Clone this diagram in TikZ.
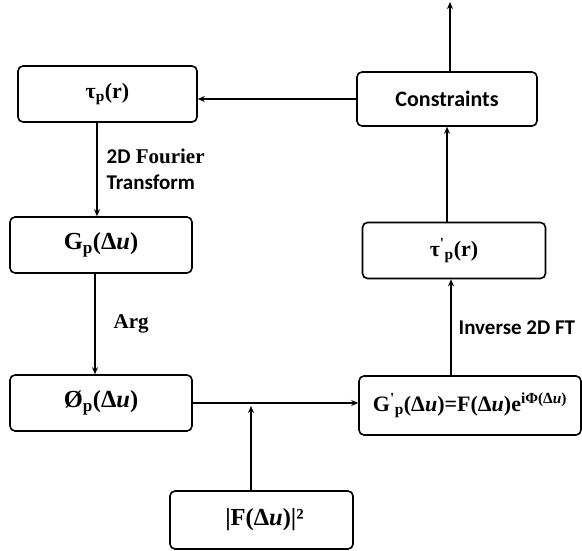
\documentclass[tikz,border=0pt]{standalone}
\usepackage{fontspec}
\setmainfont{Liberation Serif}
\newfontfamily\labelfont{Carlito}
\usetikzlibrary{arrows.meta,calc}
\begin{document}
\begin{tikzpicture}[x=1pt, y=-1pt, line cap=round]

    % let's define some key values
    \def\xleft{101}
    \def\xright{454}
    \def\boxw{182}
    \def\boxh{56}

    % Styles
    \tikzstyle{block}=[draw, line width=1.6pt, rounded corners=5pt,
        minimum width=\boxw pt, minimum height=\boxh pt, inner sep=2pt,
        font=\fontsize{22}{25}\selectfont\bfseries]
    \tikzstyle{wide}=[font=\fontsize{24.5}{27}\selectfont\bfseries]
    \tikzstyle{flow}=[line width=1.3pt, -{Stealth[length=7pt, width=6pt]}]
    \tikzstyle{note}=[inner sep=0pt, font=\fontsize{21}{24}\selectfont\bfseries]

    \useasboundingbox (0,0) rectangle (582,551);

    % left column
    \node[block, minimum width=179pt] (tau) at (107.5,94) {τ\textsubscript{p}(r)};
    \node[block, wide] (gp) at (\xleft,245) {G\textsubscript{p}(Δ\textit{u})};
    \node[block, wide] (phi) at (\xleft,403) {Ø\textsubscript{p}(Δ\textit{u})};

    % right column
    \node[block, minimum width=180pt, minimum height=54pt] (cons) at (447,99)
        {\labelfont Constraints};
    \node[block, minimum width=183pt] (cp) at (\xright,250.5)
        {τ\textsuperscript{\textquotesingle}\textsubscript{p}(r)};
    \node[block, minimum width=222pt, minimum height=59pt] (gpp) at (470,405.5)
        {G\textsuperscript{\textquotesingle}\textsubscript{p}(Δ\textit{u})=F(Δ\textit{u})e\textsuperscript{iΦ(Δ\textit{u})}};

    % modulus input
    \node[block, wide, minimum width=183pt, minimum height=58pt] (mod) at (261.5,520)
        {\hspace{6pt}|F(Δ\textit{u})|²};

    % free ends
    \coordinate (xa) at (97,0);
    \coordinate (xb) at (95,0);
    \coordinate (xc) at (451,0);
    \coordinate (out) at (450,2);
    \coordinate (xm) at (251,0);

    % output
    \draw[flow] (cons.north -| out) -- (out);
    % constraints back to start
    \draw[flow] (cons.west) -- (cons.west -| tau.east);
    % forward transform
    \draw[flow] (tau.south -| xa) -- (gp.north -| xa)
        node [note, midway, right=9pt, align=left]
        {{\labelfont 2D} Fourier\\[2pt]{\labelfont Transform}};
    % phase
    \draw[flow] (gp.south -| xb) -- (phi.north -| xb)
        node [note, midway, right=18pt] {Arg};
    % combine
    \draw[flow] (phi.east) -- (phi.east -| gpp.west);
    \draw[flow] (mod.north -| xm) -- ($(phi.east -| xm)+(0,3)$);
    % inverse transform
    \draw[flow] (gpp.north -| xc) -- (cp.south -| xc)
        node [note, midway, right=7pt] {\labelfont Inverse 2D FT};
    \draw[flow] (cp.north -| cons) -- (cons.south);

\end{tikzpicture}
\end{document}
